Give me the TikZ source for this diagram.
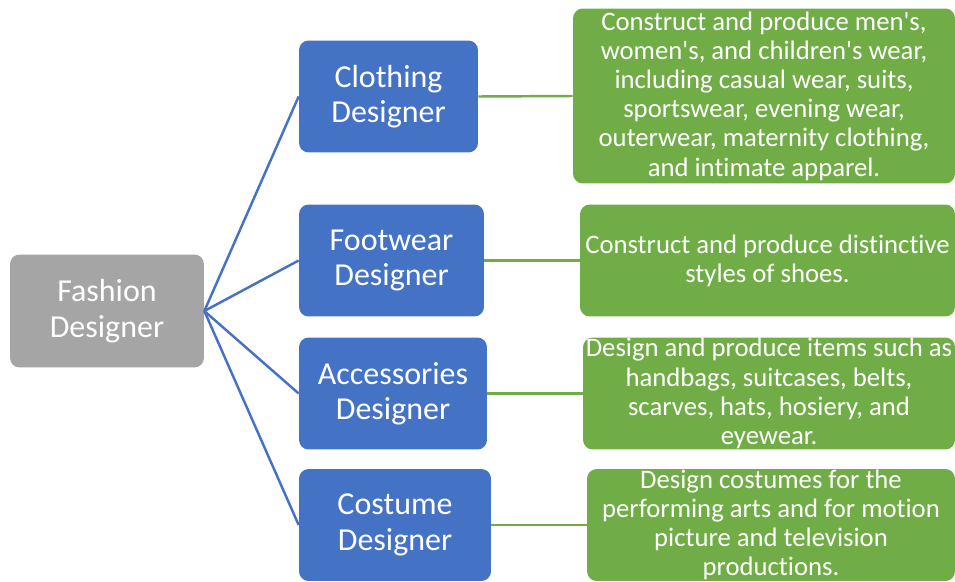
\documentclass[tikz,border=0pt]{standalone}
\usepackage{fontspec}
\setmainfont{Carlito}[Ligatures=NoCommon]
\usepackage{xcolor}
\usepackage{tikz}
\usetikzlibrary{positioning, shapes, calc}

\definecolor{roleblue}{HTML}{4472C4}
\definecolor{descgreen}{HTML}{70AD47}
\definecolor{rootgray}{HTML}{A5A5A5}

\newcommand{\apos}{\textquotesingle}

\begin{document}
\begin{tikzpicture}[x=0.02cm, y=-0.02cm]
		
		\tikzstyle{box}=[rounded corners=5.5pt, draw=none, text=white, align=center, inner sep=0pt]
		\tikzstyle{rootc}=[box, fill=rootgray, font=\fontsize{18.2}{20.2}\selectfont]
		\tikzstyle{rolec}=[box, fill=roleblue, font=\fontsize{18.2}{20.2}\selectfont, minimum height=2.24cm]
		\tikzstyle{descc}=[box, fill=descgreen, font=\fontsize{15.2}{16.6}\selectfont, minimum height=2.24cm]
		\tikzstyle{bline}=[draw=roleblue, line width=1.4pt]
		\tikzstyle{gline}=[draw=descgreen, line width=1.4pt]
		
		\useasboundingbox (0,0) rectangle (955,581);
		
		\node (fashion) at (107,311) [rootc, minimum width=3.88cm, minimum height=2.26cm] {Fashion\\Designer};
		
		\node (clothing) at (388.5,96.5) [rolec, minimum width=3.58cm] {Clothing\\Designer};
		\node (footwear) at (391.5,260.5) [rolec, minimum width=3.70cm] {Footwear\\Designer};
		\node (accessories) at (393,393.5) [rolec, minimum width=3.76cm] {Accessories\\Designer};
		\node (costume) at (395,525) [rolec, minimum width=3.84cm] {Costume\\Designer};
		
		\node (dclothing) at (764,96) [descc, minimum width=7.64cm, minimum height=3.5cm] {Construct and produce men\apos s,\\women\apos s, and children\apos s wear,\\including casual wear, suits,\\sportswear, evening wear,\\outerwear, maternity clothing,\\and intimate apparel.};
		\node (dfootwear) at (767.5,260.5) [descc, minimum width=7.5cm] {Construct and produce distinctive\\styles of shoes.};
		\node (daccessories) at (769,393.5) [descc, minimum width=7.44cm] {Design and produce items such as\\handbags, suitcases, belts,\\scarves, hats, hosiery, and\\eyewear.};
		\node (dcostume) at (771,525) [descc, minimum width=7.36cm] {Design costumes for the\\performing arts and for motion\\picture and television\\productions.};
		
		
		\draw [bline] (fashion.east) -- (clothing.west);
		\draw [bline] (fashion.east) -- (footwear.west);
		\draw [bline] (fashion.east) -- (accessories.west);
		\draw [bline] (fashion.east) -- (costume.west);
		
		\draw [gline] (clothing.east) -- (dclothing.west);
		\draw [gline] (footwear.east) -- (dfootwear.west);
		\draw [gline] (accessories.east) -- (daccessories.west);
		\draw [gline] (costume.east) -- (dcostume.west);
		
\end{tikzpicture}
\end{document}
